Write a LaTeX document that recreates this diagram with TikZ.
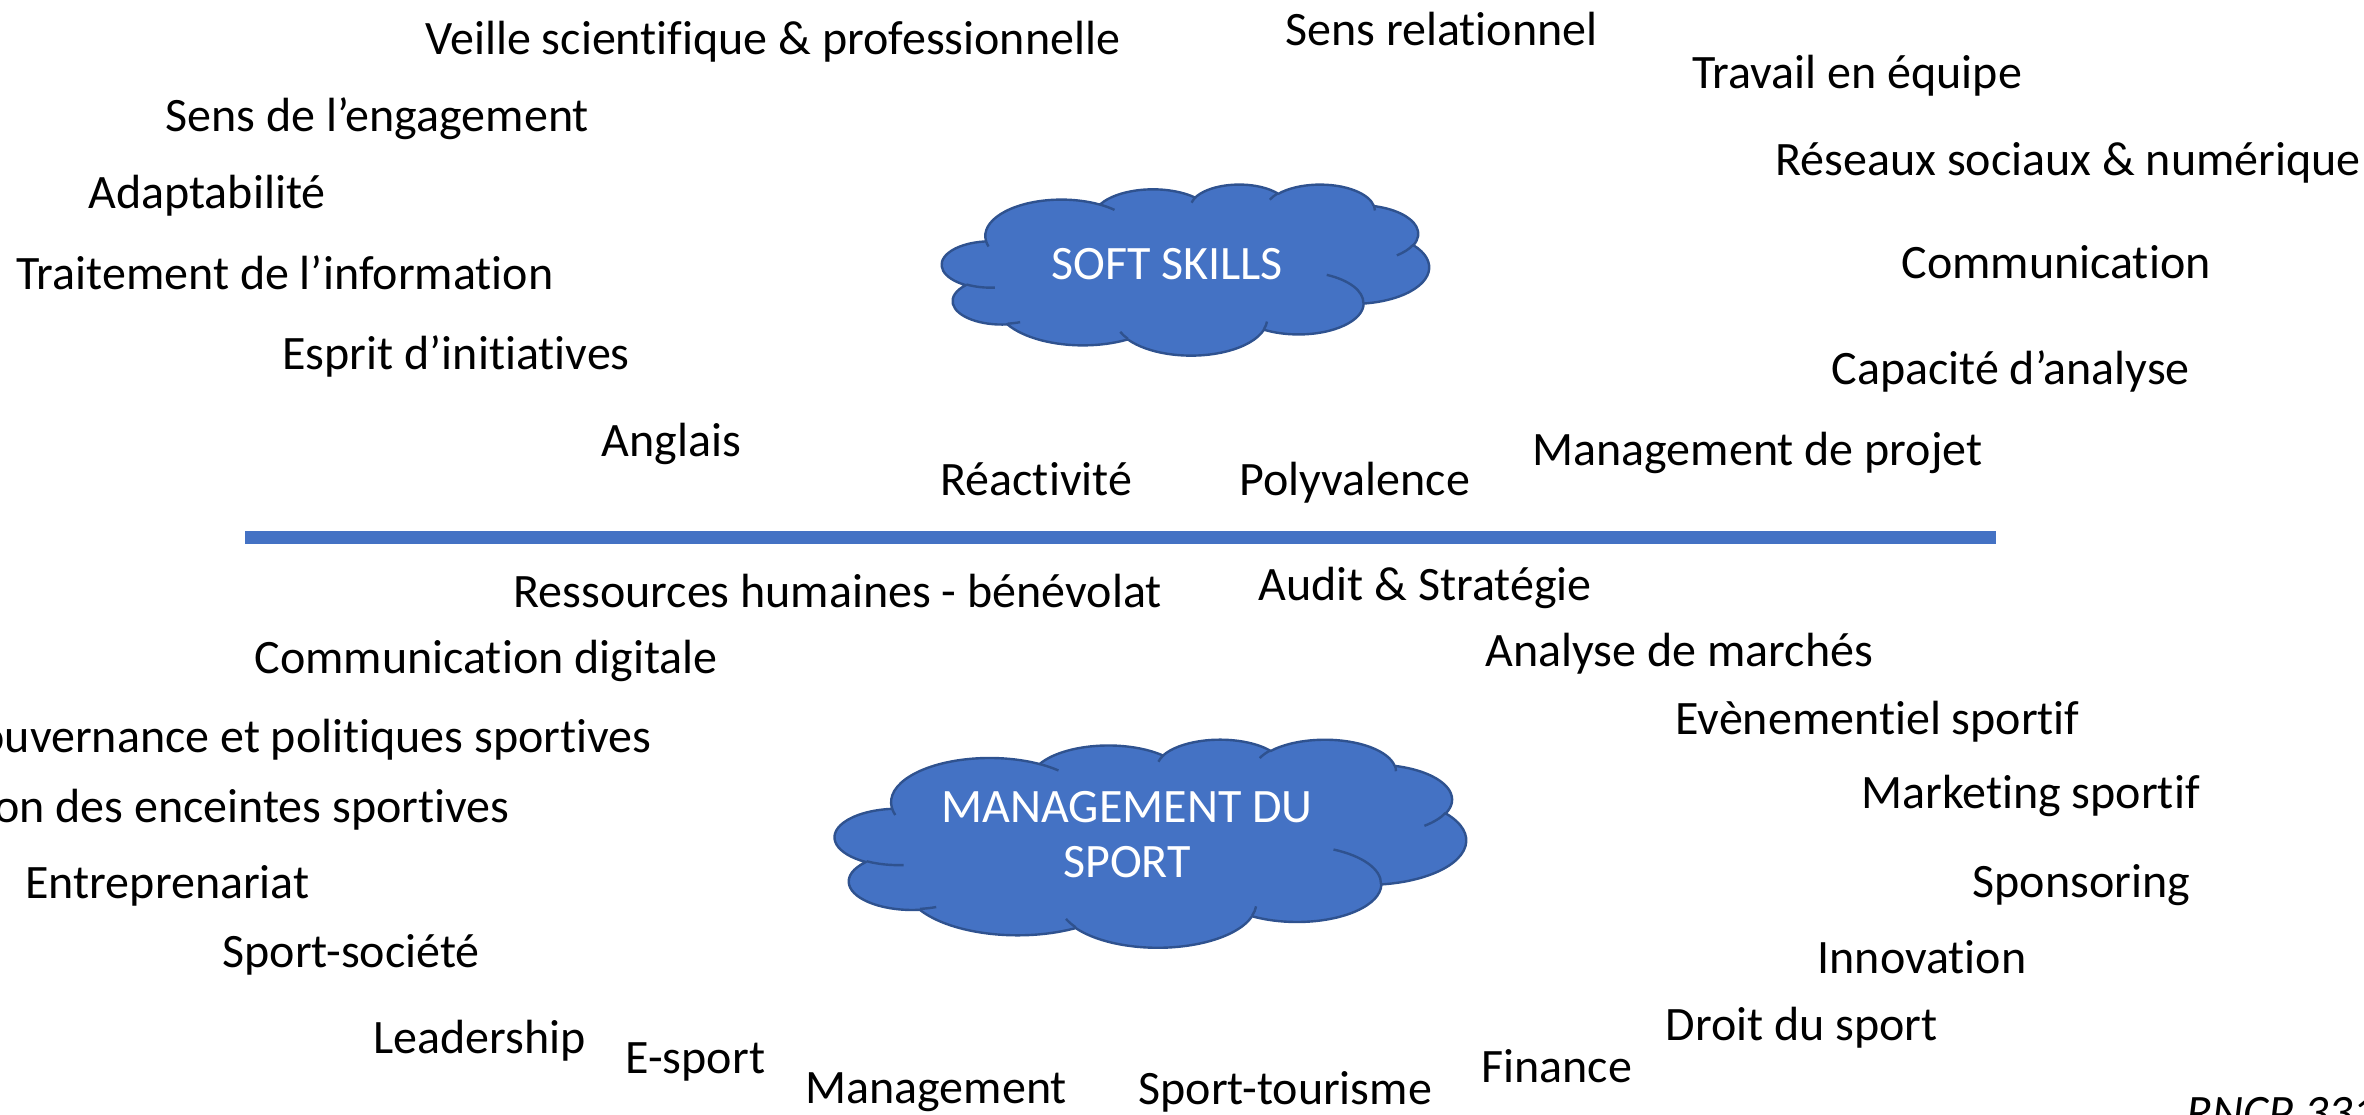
\documentclass[tikz,border=0pt]{standalone}
\usepackage{fontspec}
\setmainfont{Carlito}[Ligatures={NoCommon}]

\definecolor{cloudblue}{HTML}{4472C4}
\definecolor{cloudedge}{HTML}{2F528F}

\tikzset{every picture/.style={line width=0.75pt}}
\tikzset{
  skill/.style={anchor=base west, inner sep=0.75pt, font=\fontsize{12}{14.4}\selectfont},
  skillr/.style={skill, anchor=base east},
  cloudbody/.style={draw=cloudedge, fill=cloudblue, line width=0.6pt, line join=round},
  cloudfold/.style={draw=cloudedge, line width=0.6pt},
  cloudtext/.style={text=white, align=center, inner sep=0.75pt, font=\fontsize{12}{13.75}\selectfont},
  sepline/.style={draw=cloudblue, line width=3.25pt},
  % arc given as in the slide: radii, start and sweep of the visual angle
  ppt arc/.code args={#1/#2/#3/#4}{%
    \pgfmathsetmacro\arcbeg{atan2((#1)*sin(#3),(#2)*cos(#3))}%
    \pgfmathsetmacro\arcend{atan2((#1)*sin((#3)+(#4)),(#2)*cos((#3)+(#4)))}%
    \pgfmathsetmacro\arcdel{mod(\arcend-\arcbeg+720,360)}%
    \edef\arcopts{start angle=\arcbeg, delta angle=\arcdel, x radius=#1, y radius=#2}%
    \expandafter\pgfkeysalso\expandafter{\arcopts}%
  },
}

% cloud outline in a 43.2 x 43.2 frame
\newcommand\drawcloud{%
  \draw[cloudbody] (3.900,14.370)
    arc[ppt arc={6.753/9.190/-190.4875/123.7805}]
    arc[ppt arc={5.333/7.267/-144.1024/89.9452}]
    arc[ppt arc={4.365/5.945/-145.8079/99.7230}]
    arc[ppt arc={4.857/6.595/-130.9861/117.2417}]
    arc[ppt arc={5.333/7.273/-78.7089/109.0269}]
    arc[ppt arc={6.775/9.220/-46.2673/130.2690}]
    arc[ppt arc={5.785/7.867/0.6250/114.0333}]
    arc[ppt arc={6.752/9.215/22.4516/115.1726}]
    arc[ppt arc={7.720/10.543/66.2426/75.7110}]
    arc[ppt arc={4.360/5.918/-274.9421/146.7356}]
    arc[ppt arc={4.345/5.945/-246.8285/152.5189}]
    -- cycle;
  \draw[cloudfold]
    (4.693,26.177) arc[ppt arc={4.345/5.945/86.7420/26.4295}]
    (6.928,34.899) arc[ppt arc={4.360/5.918/73.6105/11.4475}]
    (16.478,39.090) arc[ppt arc={6.752/9.215/137.6242/14.0811}]
    (28.827,34.751) arc[ppt arc={6.752/9.215/6.4533/15.9984}]
    (34.129,22.954) arc[ppt arc={5.785/7.867/-70.2924/70.9174}]
    (41.798,15.354) arc[ppt arc={5.333/7.273/30.3180/27.7515}]
    (38.324,5.426) arc[ppt arc={4.857/6.595/-13.7443/14.8589}]
    (29.078,3.952) arc[ppt arc={4.857/6.595/-149.1815/18.1954}]
    (22.141,4.720) arc[ppt arc={4.365/5.945/-163.4943/17.6864}]
    (14.000,5.192) arc[ppt arc={6.753/9.190/-66.7070/12.3194}]
    (4.127,15.789) arc[ppt arc={6.753/9.190/157.6544/11.8582}];
}

\begin{document}
\begin{tikzpicture}[x=0.25pt,y=0.25pt,yscale=-1,xscale=1]
\useasboundingbox (0,0) rectangle (2364,1114);
\clip (0,0) rectangle (2364,1114);

%Shape: Cloud
\begin{scope}[shift={(942,184)}, xscale=487/43.2, yscale=171/43.2]
\drawcloud
\end{scope}
%Shape: Cloud
\begin{scope}[shift={(835,739)}, xscale=631/43.2, yscale=208/43.2]
\drawcloud
\end{scope}

% Text Node
\draw (1167,279) node [cloudtext, anchor=base] (soft) {SOFT SKILLS};
% Text Node
\draw (1127,835) node [cloudtext] (mgmt) {MANAGEMENT DU\\SPORT};

%Straight Lines
\coordinate (sepL) at (245,537.5);
\coordinate (sepR) at (1996,537.5);
\draw [sepline] (sepL) -- (sepR);

% Text Node
\draw (421,54) node [skill] (veille) {Veille scientifique \& professionnelle};
% Text Node
\draw (1281,45) node [skill] (relation) {Sens relationnel};
% Text Node
\draw (1688,88) node [skill] (equipe) {Travail en équipe};
% Text Node
\draw (161,131) node [skill] (engage) {Sens de l’engagement};
% Text Node
\draw (1771,175) node [skill] (reseaux) {Réseaux sociaux \& numérique};
% Text Node
\draw (84,208) node [skill] (adapt) {Adaptabilité};
% Text Node
\draw (12,289) node [skill] (traite) {Traitement de l’information};
% Text Node
\draw (1897,278) node [skill] (comm) {Communication};
% Text Node
\draw (278,369) node [skill] (esprit) {Esprit d’initiatives};
% Text Node
\draw (1827,384) node [skill] (capa) {Capacité d’analyse};
% Text Node
\draw (597,456) node [skill] (anglais) {Anglais};
% Text Node
\draw (1528,465) node [skill] (projet) {Management de projet};
% Text Node
\draw (936,495) node [skill] (react) {Réactivité};
% Text Node
\draw (1235,495) node [skill] (poly) {Polyvalence};

% Text Node
\draw (509,607) node [skill] (rh) {Ressources humaines - bénévolat};
% Text Node
\draw (1254,600) node [skill] (audit) {Audit \& Stratégie};
% Text Node
\draw (250,673) node [skill] (digit) {Communication digitale};
% Text Node
\draw (1481,666) node [skill] (marches) {Analyse de marchés};
% Text Node
\draw (656,752) node [skillr] (gouv) {Gouvernance et politiques sportives};
% Text Node
\draw (1671,734) node [skill] (event) {Evènementiel sportif};
% Text Node
\draw (514,822) node [skillr] (enceinte) {Gestion des enceintes sportives};
% Text Node
\draw (1857,808) node [skill] (market) {Marketing sportif};
% Text Node
\draw (21,898) node [skill] (entre) {Entreprenariat};
% Text Node
\draw (1968,897) node [skill] (sponso) {Sponsoring};
% Text Node
\draw (218,967) node [skill] (societe) {Sport-société};
% Text Node
\draw (1813,973) node [skill] (innov) {Innovation};
% Text Node
\draw (369,1053) node [skill] (leader) {Leadership};
% Text Node
\draw (1661,1040) node [skill] (droit) {Droit du sport};
% Text Node
\draw (621,1073) node [skill] (esport) {E-sport};
% Text Node
\draw (1477,1082) node [skill] (finance) {Finance};
% Text Node
\draw (801,1103) node [skill] (manage) {Management};
% Text Node
\draw (1134,1104) node [skill] (tourisme) {Sport-tourisme};
% Text Node
\draw (2182,1128) node [skill, font=\fontsize{12}{14.4}\selectfont\itshape] (rncp) {RNCP 331};

\end{tikzpicture}
\end{document}
